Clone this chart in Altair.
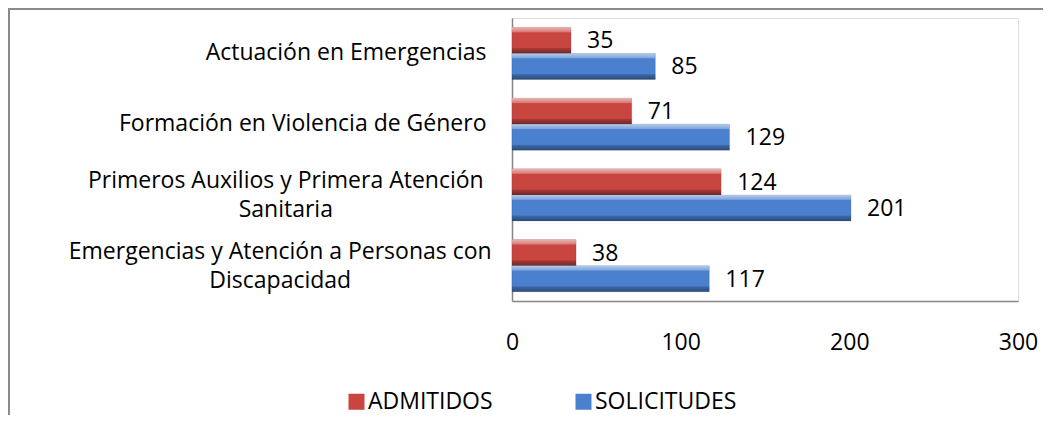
import altair as alt
import pandas as pd

# ---- data -------------------------------------------------------------
categories = [
    "Actuación en Emergencias",
    "Formación en Violencia de Género",
    "Primeros Auxilios y Primera Atención\nSanitaria",
    "Emergencias y Atención a Personas con\nDiscapacidad",
]
series = ["ADMITIDOS", "SOLICITUDES"]
admitidos = [35, 71, 124, 38]
solicitudes = [85, 129, 201, 117]
x_ticks = [0, 100, 200, 300]

rows = []
for c, a, s in zip(categories, admitidos, solicitudes):
    rows.append({"Curso": c, "Serie": series[0], "Valor": a})
    rows.append({"Curso": c, "Serie": series[1], "Valor": s})
df = pd.DataFrame(rows)

FONT = "Open Sans"
AXIS_GRAY = "#868686"
FS = 23

# multi-line category labels: block right-aligned, lines centred
NL = "indexof(datum.value, '\\n')"
MULTI = f"{NL} >= 0"

x_enc = alt.X(
    "Valor:Q",
    scale=alt.Scale(domain=[0, 300], nice=False),
    axis=alt.Axis(
        values=x_ticks, grid=False, ticks=False, tickSize=0, title=None,
        labelFont=FONT, labelFontSize=FS, labelColor="#000000",
        labelPadding=30, labelFlush=False,
        domainColor=AXIS_GRAY, domainWidth=1.5,
    ),
)
y_enc = alt.Y(
    "Curso:N", sort=categories, title=None,
    scale=alt.Scale(paddingInner=0.265, paddingOuter=0.1325),
    axis=alt.Axis(
        labelExpr="split(datum.label, '\\n')",
        labelFont=FONT, labelFontSize=FS, labelColor="#000000",
        labelAlign=alt.ExprRef(expr=f"{MULTI} ? 'center' : 'right'"),
        labelPadding=alt.ExprRef(expr=f"{MULTI} ? 26 + 0.5 * 11.15 * {NL} : 26"),
        labelOffset=alt.ExprRef(expr=f"{MULTI} ? -14 : 0"),
        ticks=False, tickSize=0, labelLimit=800,
        labelLineHeight=29, domainColor=AXIS_GRAY, domainWidth=1.5,
    ),
)
yoff = alt.YOffset("Serie:N", sort=series,
                   scale=alt.Scale(paddingInner=0, paddingOuter=0))

base = alt.Chart(df).encode(y=y_enc, yOffset=yoff)

bars = base.mark_bar(stroke="rgba(40,40,60,0.25)", strokeWidth=0.5).encode(
    x=x_enc,
    color=alt.Color(
        "Serie:N",
        scale=alt.Scale(domain=series, range=["#C9453F", "#4A80CE"]),
        legend=alt.Legend(
            title=None, orient="none", direction="horizontal",
            legendX=-167, legendY=372, symbolType="square",
            symbolSize=256, symbolStrokeWidth=0, symbolOpacity=1,
            labelFont=FONT, labelFontSize=23, labelColor="#000000",
            labelOffset=0, columnPadding=79,
        ),
    ),
)

bevel = alt.LinearGradient(
    gradient="linear", x1=0, x2=0, y1=0, y2=1,
    stops=[
        alt.GradientStop(color="rgba(255,255,255,0.60)", offset=0),
        alt.GradientStop(color="rgba(255,255,255,0.30)", offset=0.17),
        alt.GradientStop(color="rgba(255,255,255,0.0)", offset=0.21),
        alt.GradientStop(color="rgba(0,0,0,0.0)", offset=0.78),
        alt.GradientStop(color="rgba(0,0,0,0.20)", offset=0.82),
        alt.GradientStop(color="rgba(0,0,0,0.40)", offset=1),
    ],
)
shine = base.mark_bar(fill=bevel).encode(x="Valor:Q")

labels = base.mark_text(
    align="left", baseline="middle", dx=16, dy=1,
    font=FONT, fontSize=FS, color="#000000",
).encode(x="Valor:Q", text="Valor:Q")

frame_df = pd.DataFrame({"k": [0]})
frame_top = alt.Chart(frame_df).mark_rule(color="#8a8a8a", strokeWidth=2).encode(
    x=alt.value(-504), x2=alt.value(531), y=alt.value(-9))
frame_left = alt.Chart(frame_df).mark_rule(color="#8a8a8a", strokeWidth=2).encode(
    x=alt.value(-503), y=alt.value(-10), y2=alt.value(397))

chart = alt.layer(bars, shine, labels, frame_top, frame_left).properties(
    width=506, height=283,
    autosize=alt.AutoSizeParams(type="none"),
    padding={"left": 504, "top": 10, "right": 25, "bottom": 114},
).configure_view(stroke=None).configure(background="#ffffff")

chart.save("out.html", embed_options={"renderer": "svg", "actions": False})
